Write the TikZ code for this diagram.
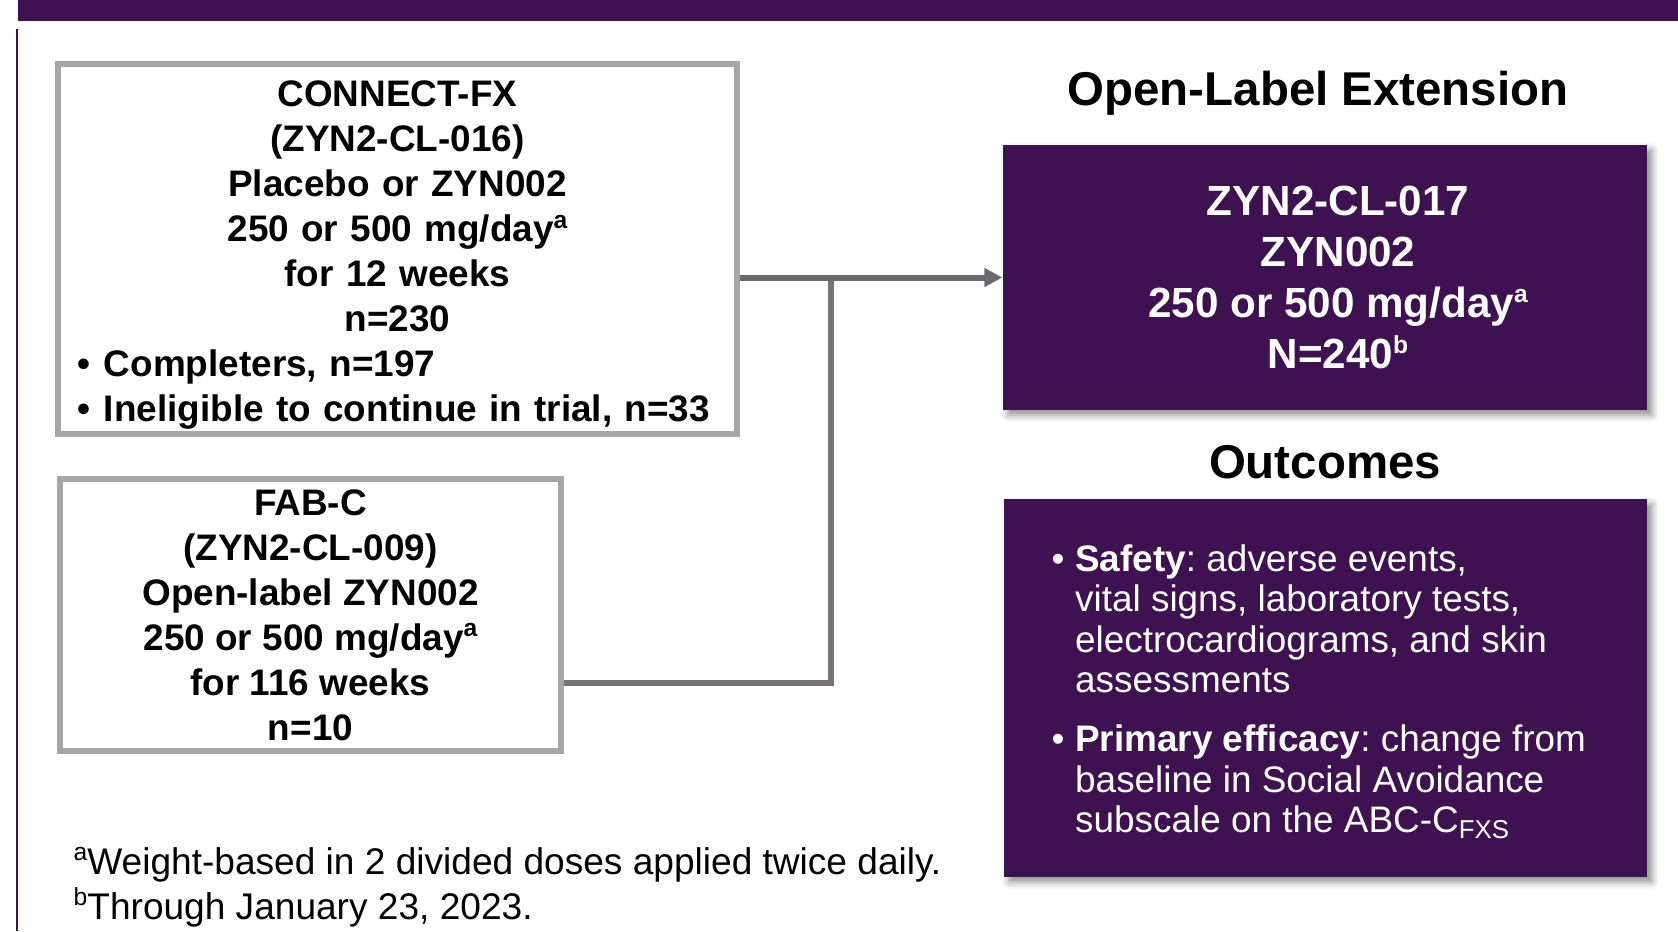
\documentclass[tikz,border=0pt]{standalone}
\usepackage{fontspec}
\setmainfont{Liberation Sans}
\usepackage{xcolor}
\usepackage{tikz}
\usetikzlibrary{arrows.meta,shadows.blur}
\setlength{\parindent}{0pt}
\frenchspacing
\definecolor{FigurePurple}{HTML}{3E1151}
\definecolor{FigureBorder}{HTML}{A6A6A6}
\definecolor{FigureArrow}{HTML}{6A6A6E}
\definecolor{FigureFeed}{HTML}{787474}
\definecolor{FigureInk}{HTML}{000000}
\newcommand{\BoxText}{\fontsize{10.5}{12.8}\selectfont\bfseries}
\newcommand{\ExtText}{\fontsize{12}{14.6}\selectfont\bfseries}
\newcommand{\HeadText}{\fontsize{13.5}{16}\selectfont\bfseries}
\newcommand{\OutText}{\fontsize{10.5}{11.5}\selectfont}
\newcommand{\NoteText}{\fontsize{10.55}{12.8}\selectfont}
\newcommand{\BulletMark}[1]{\makebox[#1][l]{\textbullet}}
\newcommand{\SupMark}[1]{\raisebox{0.36em}{\scriptsize #1}}
\tikzset{
  study box/.style={draw=FigureBorder,line width=0.06cm,fill=white,inner xsep=0.19cm,
    inner ysep=0pt,text=FigureInk,font=\BoxText},
  ext box/.style={fill=FigurePurple,inner sep=0pt,
    blur shadow={shadow xshift=0.05cm,shadow yshift=-0.05cm,shadow blur radius=0.07cm,shadow opacity=45}},
  arm arrow/.style={draw=FigureArrow,line width=0.06cm,-{Triangle[length=0.18cm,width=0.18cm]}},
  feed line/.style={draw=FigureFeed,line width=0.06cm}
}

\begin{document}
\begin{tikzpicture}[x=1cm,y=1cm]
  \path[use as bounding box] (0,0) rectangle (16.78,9.31);

  % banner and margin rule
  \fill[FigurePurple] (0.18,9.10) rectangle (16.78,9.31);
  \fill[FigurePurple] (0.16,0) rectangle (0.18,9.02);

  \node[study box,minimum width=6.79cm,minimum height=3.70cm,text width=6.41cm,align=left]
    (connect) at (3.975,6.82)
    {{\centering \rule{0pt}{10.7pt}CONNECT-FX\\(ZYN2-CL-016)\\Placebo or ZYN002\\
      250 or 500 mg/day\SupMark{a}\\for 12 weeks\\n=230\par}
     \BulletMark{0.27cm}Completers, n=197\\
     \BulletMark{0.27cm}Ineligible to continue in trial, n=33};
  \node[study box,minimum width=5.01cm,minimum height=2.72cm,align=center]
    (fab) at (3.105,3.16)
    {FAB-C\\(ZYN2-CL-009)\\Open-label ZYN002\\250 or 500 mg/day\SupMark{a}\\
     for 116 weeks\\n=10};

  \node[anchor=base,font=\HeadText] (olehead) at (13.18,8.26) {Open-Label Extension};
  \node[ext box,minimum width=6.44cm,minimum height=2.65cm] (ext) at (13.25,6.535) {};
  \node[text=white,font=\ExtText,align=center] (exttext) at (13.38,6.535)
    {ZYN2-CL-017\\ZYN002\\250 or 500 mg/day\SupMark{a}\\N=240\SupMark{b}};

  \node[anchor=base,font=\HeadText] (outhead) at (13.25,4.53) {Outcomes};
  \node[ext box,minimum width=6.43cm,minimum height=3.78cm] (outbox) at (13.255,2.43) {};
  \node[anchor=north west,inner sep=0pt,text=white,font=\OutText,align=left]
    (outtext) at (10.51,3.87)
    {\BulletMark{0.235cm}\textbf{Safety}: adverse events,\\
     \hspace*{0.235cm}vital signs, laboratory tests,\\
     \hspace*{0.235cm}electrocardiograms, and skin\\
     \hspace*{0.235cm}assessments\\[5.3pt]
     \BulletMark{0.235cm}\textbf{Primary efficacy}: change from\\
     \hspace*{0.235cm}baseline in Social Avoidance\\
     \hspace*{0.235cm}subscale on the ABC-C\textsubscript{FXS}};

  % connectors
  \coordinate (bend) at (8.31,2.48);
  \draw[feed line] (fab.east |- bend) -- (bend) -- (bend |- ext.west);
  \draw[arm arrow] (connect.east |- ext.west) -- (ext.west);

  \node[anchor=north west,inner sep=0pt,font=\NoteText,align=left] (notes) at (0.73,0.845)
    {\SupMark{a}Weight-based in 2 divided doses applied twice daily.\\
     \SupMark{b}Through January 23, 2023.};
\end{tikzpicture}
\end{document}
